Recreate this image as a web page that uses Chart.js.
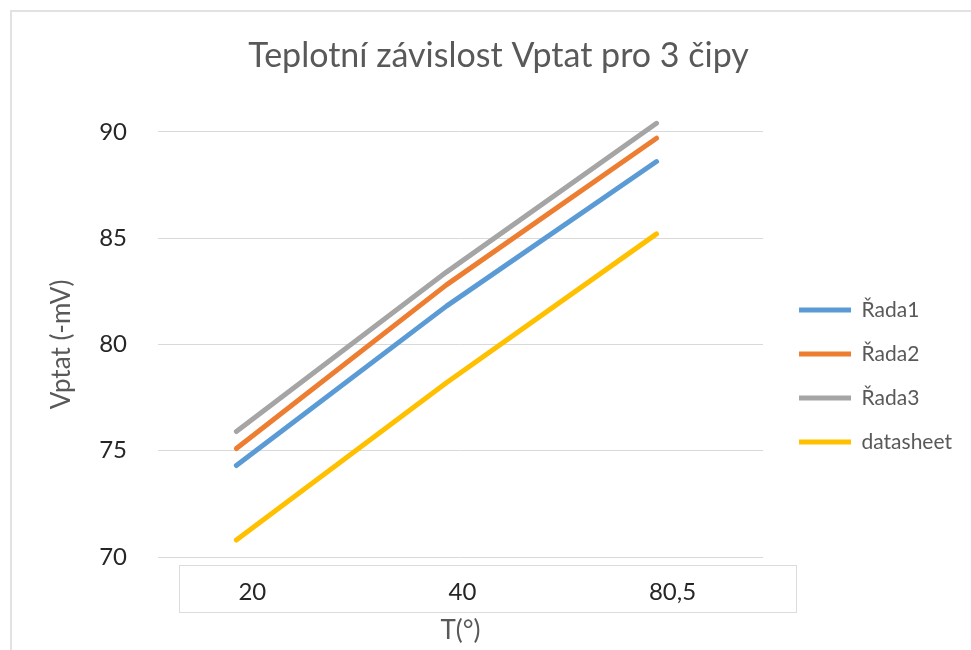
<!DOCTYPE html>
<html>
<head>
<meta charset="utf-8">
<script src="https://cdn.jsdelivr.net/npm/chart.js@4"></script>
<style>
  body { margin: 0; background: #fff; }
  #wrap { position: relative; width: 971px; height: 650px; }
  #frame { position: absolute; left: 10px; top: 10px; right: 0; bottom: 0;
           border-top: 2px solid #e2e2e2; border-left: 2px solid #e2e2e2; }
  #xbox { position: absolute; left: 179px; top: 565px; width: 616px; height: 46px;
          border: 1px solid #dcdcdc; }
  canvas { position: absolute; left: 0; top: 0; }
</style>
</head>
<body>
<div id="wrap">
  <div id="frame"></div>
  <div id="xbox"></div>
  <canvas id="chart" width="971" height="650"></canvas>
</div>
<script>
// temperatures (category labels)
var categories = ['20', '40', '80,5'];

// Vptat (-mV) per chip
var rada1 = [74.3, 81.8, 88.6];
var rada2 = [75.1, 82.8, 89.7];
var rada3 = [75.9, 83.4, 90.4];
var datasheet = [70.8, 78.2, 85.2];

var seriesNames = ['Řada1', 'Řada2', 'Řada3', 'datasheet'];
var seriesColors = ['#5B9BD5', '#ED7D31', '#A5A5A5', '#FFC000'];
var seriesValues = [rada1, rada2, rada3, datasheet];

var toPoints = function(values) {
	return values.map(function(v, i) { return { x: i, y: v }; });
};

var datasets = [];
for (var i = 0; i < seriesNames.length; i++) {
	datasets.push({
		label: seriesNames[i],
		data: toPoints(seriesValues[i]),
		borderColor: seriesColors[i],
		backgroundColor: seriesColors[i],
		borderWidth: 5,
		borderCapStyle: 'round',
		borderJoinStyle: 'round',
		pointRadius: 0,
		tension: 0,
		fill: false,
		clip: false
	});
}

var ctx = document.getElementById('chart');

var chart = new Chart(ctx, {
	type: 'line',
	data: { datasets: datasets },
	options: {
		responsive: false,
		animation: false,
		layout: { padding: { left: 35, right: 9, top: 0, bottom: 0 } },
		plugins: {
			tooltip: { enabled: false },
			title: {
				display: true,
				text: 'Teplotní závislost Vptat pro 3 čipy',
				color: '#595959',
				font: { family: 'Lato', size: 34, weight: 'normal' },
				padding: { top: 36, bottom: 55 }
			},
			legend: {
				position: 'right',
				align: 'start',
				maxWidth: 260,
				title: { display: true, text: '', font: { size: 12 }, padding: { top: 262, bottom: 0 } },
				labels: {
					usePointStyle: true,
					pointStyle: 'line',
					pointStyleWidth: 52,
					padding: 23,
					color: '#595959',
					font: { family: 'Lato', size: 21 }
				}
			}
		},
		scales: {
			x: {
				type: 'linear',
				min: -0.373,
				max: 2.507,
				afterBuildTicks: function(scale) {
					scale.ticks = categories.map(function(c, i) { return { value: i }; });
				},
				afterFit: function(scale) { scale.height = 93; },
				grid: { display: false },
				border: { display: false },
				ticks: {
					padding: 13,
					labelOffset: 16,
					color: '#262626',
					font: { family: 'Lato', size: 24 },
					callback: function(value) { return categories[value]; }
				},
				title: {
					display: true,
					text: 'T(°)',
					color: '#595959',
					font: { family: 'Lato', size: 26 },
					padding: { top: 0, bottom: 4 }
				}
			},
			y: {
				min: 70,
				max: 90,
				afterFit: function(scale) { scale.width = 123; },
				grid: { color: '#D9D9D9', lineWidth: 1, drawTicks: false },
				border: { display: false },
				ticks: {
					stepSize: 5,
					padding: 31,
					color: '#262626',
					font: { family: 'Lato', size: 24 }
				},
				title: {
					display: true,
					text: 'Vptat (-mV)',
					color: '#595959',
					font: { family: 'Lato', size: 26 },
					padding: { top: 11, bottom: 0 }
				}
			},
			// empty axis: keeps the legend away from the plot
			gap: {
				type: 'linear',
				position: 'right',
				display: true,
				grid: { display: false },
				border: { display: false },
				ticks: { display: false },
				afterFit: function(scale) { scale.width = 13; }
			}
		}
	}
});
</script>
</body>
</html>
